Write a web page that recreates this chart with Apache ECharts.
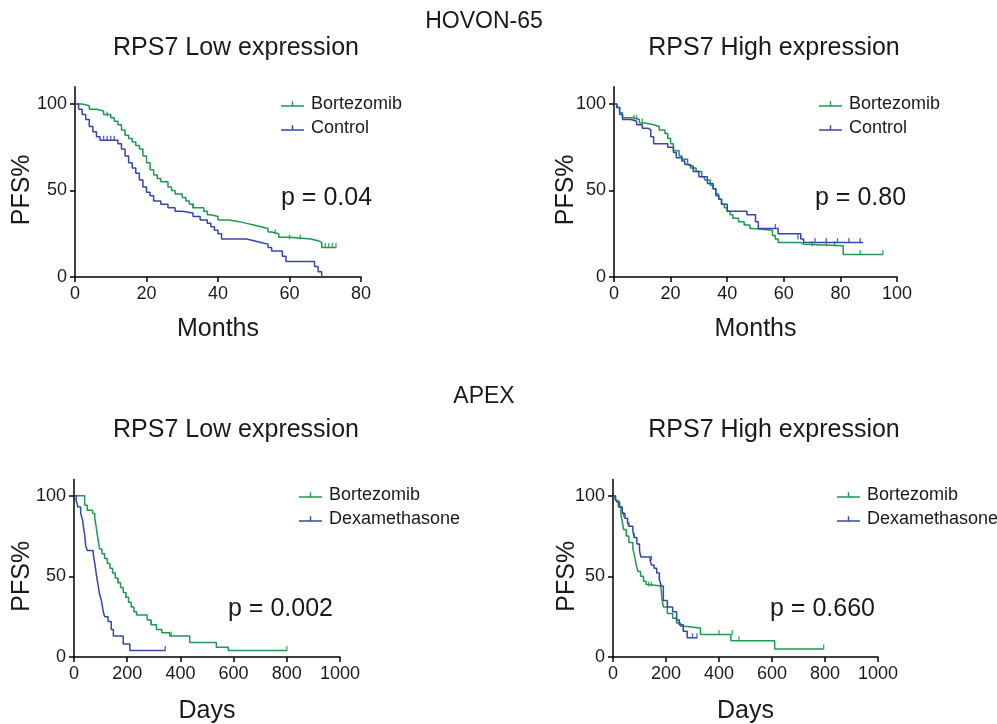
<!DOCTYPE html>
<html>
<head>
<meta charset="utf-8">
<script src="https://cdn.jsdelivr.net/npm/echarts@6/dist/echarts.min.js"></script>
<style>
  html, body { margin: 0; padding: 0; background: #fff; }
  #charts { width: 997px; height: 724px; }
</style>
</head>
<body>
<div id="charts"></div>
<script>
// ---- data: [time, PFS%] step points ----
// HOVON-65, RPS7 low (months)
var hovLowBort = [[0,100],[2,99],[4,97],[6,96],[8,94],[10,92],[11,90],[12,88],[13,85],[14,82],[15,80],[16,78],[17,76],[18,74],[19,70],[20,66],[21,62],[22,59],[23,57],[24,55],[26,52],[27,50],[28,48],[30,46],[31,44],[32,42],[33,40],[36,38],[37,36],[38,35],[40,33],[43,32],[46,31],[48,30],[50,29],[52,28],[54,26],[55,25],[57,23],[60,22],[66,21],[68,20],[69,17],[73,17]];
var hovLowCtrl = [[0,100],[1,97],[2,94],[3,91],[4,87],[5,84],[6,81],[7,79],[12,77],[13,74],[14,70],[15,66],[16,63],[17,60],[18,56],[19,52],[20,49],[21,47],[22,44],[24,42],[26,40],[28,38],[30,37],[33,35],[35,33],[37,31],[38,29],[39,27],[40,25],[41,22],[48,21],[50,20],[52,19],[54,17],[55,15],[58,12],[59,9],[67,6],[68,3],[69,0]];
var hovLowBortCens = [[9,93],[33,40],[56,25],[60,22],[63,22],[69,17],[70,17],[71,17],[72,17],[73,17]];
var hovLowCtrlCens = [[8,79],[9,79],[10,79],[11,79]];

// HOVON-65, RPS7 high (months)
var hovHighBort = [[0,100],[1,98],[2,95],[3,92],[7,91],[9,89],[11,88],[14,87],[16,85],[18,83],[19,80],[20,77],[21,73],[23,70],[24,68],[26,65],[27,63],[29,61],[31,58],[32,56],[34,53],[35,51],[36,48],[37,45],[38,42],[39,40],[40,38],[41,36],[42,34],[44,32],[46,30],[48,28],[49,27],[56,24],[57,22],[58,20],[66,19],[67,18],[81,13],[95,13]];
var hovHighCtrl = [[0,100],[1,98],[2,94],[3,91],[6,90],[8,88],[10,86],[12,85],[13,81],[14,77],[19,75],[21,72],[22,69],[24,67],[25,65],[26,64],[28,61],[30,58],[33,54],[35,51],[36,47],[37,45],[38,42],[40,38],[47,36],[50,32],[51,28],[58,25],[66,22],[67,20],[88,20]];
var hovHighBortCens = [[7,91],[8,91],[10,89],[70,18],[75,18],[78,18],[87,13],[95,13]];
var hovHighCtrlCens = [[57,28],[65,22],[71,20],[75,20],[79,20],[83,20],[87,20]];

// APEX, RPS7 low (days)
var apexLowBort = [[0,100],[30,100],[40,94],[50,91],[70,89],[78,86],[84,80],[90,73],[96,67],[105,64],[115,61],[125,58],[135,55],[145,52],[155,49],[165,46],[175,43],[185,40],[195,37],[205,34],[215,31],[225,28],[235,26],[275,23],[290,20],[310,17],[330,15],[360,13],[435,9],[535,6],[580,4],[800,4]];
var apexLowDexa = [[0,100],[8,97],[15,93],[25,89],[32,85],[36,80],[40,76],[44,69],[50,66],[72,64],[76,60],[80,56],[84,51],[88,47],[92,43],[96,39],[103,35],[110,28],[115,25],[128,22],[140,17],[148,13],[185,8],[210,4],[343,4]];
var apexLowBortCens = [[165,46],[195,37],[290,20],[365,13],[800,4]];
var apexLowDexaCens = [[343,4]];

// APEX, RPS7 high (days)
var apexHighBort = [[0,100],[10,97],[20,93],[30,88],[36,83],[40,79],[50,75],[60,71],[75,67],[82,62],[88,57],[94,53],[104,50],[115,47],[125,45],[135,44],[180,43],[185,36],[190,31],[205,27],[225,24],[240,21],[255,19],[270,18],[330,14],[445,10],[610,5],[795,5]];
var apexHighDexa = [[0,100],[8,98],[15,96],[25,93],[35,89],[45,86],[55,83],[60,81],[75,78],[80,74],[90,70],[100,66],[105,62],[140,60],[145,57],[155,55],[165,52],[175,48],[182,44],[190,35],[205,31],[225,28],[240,23],[250,20],[265,16],[280,12],[317,12]];
var apexHighBortCens = [[135,44],[145,44],[400,14],[450,14],[475,10],[795,5]];
var apexHighDexaCens = [[40,87],[60,81],[80,74],[145,60],[175,48],[300,12],[317,12]];

var pValues = ['p = 0.04', 'p = 0.80', 'p = 0.002', 'p = 0.660'];
var yTicks = [0, 50, 100];

var GREEN = '#1f9850';
var BLUE = '#3446a8';
var INK = '#1a1a1a';
var FONT = 'Liberation Sans, Arial, sans-serif';

// panel layout (pixel boxes)
var panels = [
  { left: 75,  top: 86.7,  width: 286, height: 190.3, xMax: 80,   xStep: 20,  xName: 'Months', nameGap: 40, yGap: 40 },
  { left: 614, top: 86.7,  width: 283, height: 190.3, xMax: 100,  xStep: 20,  xName: 'Months', nameGap: 40, yGap: 35 },
  { left: 74,  top: 479.5, width: 266, height: 177.5, xMax: 1000, xStep: 200, xName: 'Days',   nameGap: 42, yGap: 39 },
  { left: 613, top: 479.5, width: 265, height: 177.5, xMax: 1000, xStep: 200, xName: 'Days',   nameGap: 42, yGap: 33 }
];

var myChart;

function kmSeries(name, color, idx, data, cens) {
  return [{
    type: 'line', name: name, step: 'end', xAxisIndex: idx, yAxisIndex: idx,
    data: data, showSymbol: false, symbol: 'none', color: color,
    lineStyle: { color: color, width: 1.5 }, animation: false, silent: true
  }, {
    type: 'scatter', name: name, xAxisIndex: idx, yAxisIndex: idx,
    data: cens, symbol: 'rect', symbolSize: [1.4, 5], symbolOffset: [0, -2], color: color,
    itemStyle: { color: color }, animation: false, silent: true
  }];
}

function buildOption() {
  var grid = [], xAxis = [], yAxis = [];
  panels.forEach(function (p, i) {
    grid.push({ left: p.left, top: p.top, width: p.width, height: p.height, outerBoundsMode: 'none' });
    xAxis.push({
      gridIndex: i, type: 'value', min: 0, max: p.xMax, interval: p.xStep,
      axisLine: { lineStyle: { color: '#000', width: 1.5 } },
      axisTick: { length: 5, lineStyle: { color: '#000', width: 1.5 } },
      axisLabel: { color: INK, fontSize: 18, fontFamily: FONT, margin: 8, formatter: function (v) { return String(v); } },
      splitLine: { show: false },
      name: p.xName, nameLocation: 'middle', nameGap: p.nameGap, nameMoveOverlap: false,
      nameTextStyle: { color: INK, fontSize: 25, fontFamily: FONT }
    });
    yAxis.push({
      gridIndex: i, type: 'value', min: 0, max: 110,
      axisLine: { show: true, lineStyle: { color: '#000', width: 1.5 } },
      axisTick: { show: true, length: 5, customValues: yTicks, lineStyle: { color: '#000', width: 1.5 } },
      axisLabel: { color: INK, fontSize: 18, fontFamily: FONT, margin: 8, customValues: yTicks },
      splitLine: { show: false },
      name: 'PFS%', nameLocation: 'middle', nameGap: p.yGap, nameMoveOverlap: false,
      nameTextStyle: { color: INK, fontSize: 25, fontFamily: FONT, padding: [0, 16, 0, 0] }
    });
  });

  var series = [].concat(
    kmSeries('Bortezomib', GREEN, 0, hovLowBort, hovLowBortCens),
    kmSeries('Control', BLUE, 0, hovLowCtrl, hovLowCtrlCens),
    kmSeries('Bortezomib', GREEN, 1, hovHighBort, hovHighBortCens),
    kmSeries('Control', BLUE, 1, hovHighCtrl, hovHighCtrlCens),
    kmSeries('Bortezomib', GREEN, 2, apexLowBort, apexLowBortCens),
    kmSeries('Dexamethasone', BLUE, 2, apexLowDexa, apexLowDexaCens),
    kmSeries('Bortezomib', GREEN, 3, apexHighBort, apexHighBortCens),
    kmSeries('Dexamethasone', BLUE, 3, apexHighDexa, apexHighDexaCens)
  );

  var icon = 'path://M0,4 L23,4 L23,5.4 L0,5.4 Z M10.8,0 L12.2,0 L12.2,5.4 L10.8,5.4 Z';
  function legend(left, top, names) {
    return {
      left: left, top: top, orient: 'vertical', itemGap: 6, itemWidth: 23, itemHeight: 5.4,
      icon: icon, data: names, selectedMode: false,
      textStyle: { color: INK, fontSize: 18, fontFamily: FONT, padding: [0, 0, 0, 2] }
    };
  }

  function txt(x, y, s, size) {
    return { type: 'text', x: x, y: y,
      style: { text: s, fill: INK, fontSize: size, fontFamily: FONT, textAlign: 'center', textVerticalAlign: 'middle' } };
  }
  function ptxt(x, y, s) {
    return { type: 'text', x: x, y: y,
      style: { text: s, fill: INK, fontSize: 25, fontFamily: FONT, textAlign: 'left', textVerticalAlign: 'middle' } };
  }

  return {
    backgroundColor: '#fff',
    animation: false,
    grid: grid, xAxis: xAxis, yAxis: yAxis, series: series,
    legend: [
      legend(276, 90, ['Bortezomib', 'Control']),
      legend(814, 90, ['Bortezomib', 'Control']),
      legend(294, 481, ['Bortezomib', 'Dexamethasone']),
      legend(832, 481, ['Bortezomib', 'Dexamethasone'])
    ],
    graphic: [
      txt(484, 22, 'HOVON-65', 23),
      txt(236, 48, 'RPS7 Low expression', 25),
      txt(774, 48, 'RPS7 High expression', 25),
      txt(484, 397, 'APEX', 23),
      txt(236, 430, 'RPS7 Low expression', 25),
      txt(774, 430, 'RPS7 High expression', 25),
      ptxt(281, 198, pValues[0]),
      ptxt(815, 198, pValues[1]),
      ptxt(228, 609, pValues[2]),
      ptxt(770, 609, pValues[3])
    ]
  };
}

function initChart() {
  myChart = echarts.init(document.getElementById('charts'), null, { renderer: 'canvas' });
  myChart.setOption(buildOption());
}

initChart();
</script>
</body>
</html>
